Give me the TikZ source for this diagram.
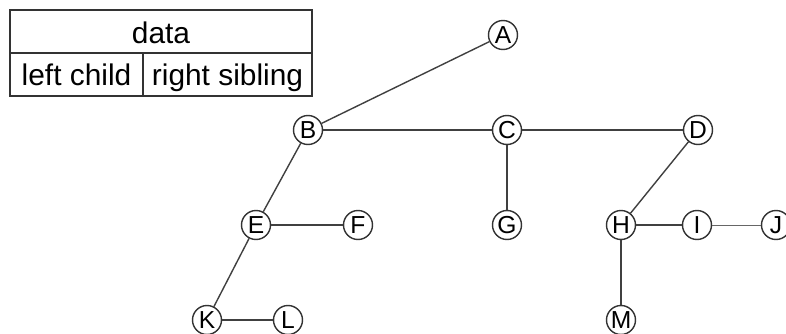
\documentclass[tikz,border=0pt]{standalone}
\usepackage{fontspec}
\setmainfont{Liberation Sans}
\begin{document}
\begin{tikzpicture}[
        vertex/.style={draw=black!80,line width=0.8pt,circle,fill=white,inner sep=0pt,minimum size=0.58cm,font=\fontsize{14}{16}\selectfont},
        edge/.style={draw=black!75,line width=0.8pt},
        field/.style={inner sep=0pt,anchor=base,font=\fontsize{17}{20}\selectfont}
    ]
                \useasboundingbox (0,0) rectangle (15.72,-6.66);
                \draw[black!80,line width=0.7pt] (0.2,-0.2) rectangle (6.24,-1.92);
                \draw[black!80,line width=0.7pt] (0.2,-1.06) -- (6.24,-1.06);
                \draw[black!80,line width=0.7pt] (2.86,-1.06) -- (2.86,-1.92);
                \node[field] (data) at (3.22,-0.87) {data};
                \node[field] (lchild) at (1.53,-1.70) {left child};
                \node[field] (rsib) at (4.55,-1.70) {right sibling};
                \node[vertex] (A) at (10.06,-0.70) {A};
                \node[vertex] (B) at (6.16,-2.60) {B};
                \node[vertex] (C) at (10.14,-2.60) {C};
                \node[vertex] (D) at (13.96,-2.60) {D};
                \node[vertex] (E) at (5.12,-4.50) {E};
                \node[vertex] (F) at (7.16,-4.50) {F};
                \node[vertex] (G) at (10.14,-4.50) {G};
                \node[vertex] (H) at (12.42,-4.50) {H};
                \node[vertex] (I) at (13.94,-4.50) {I};
                \node[vertex] (J) at (15.52,-4.50) {J};
                \node[vertex] (K) at (4.14,-6.40) {K};
                \node[vertex] (L) at (5.76,-6.40) {L};
                \node[vertex] (M) at (12.42,-6.40) {M};
                \draw[edge] (A) -- (B);
                \draw[edge] (B) -- (C);
                \draw[edge] (C) -- (D);
                \draw[edge] (B) -- (E);
                \draw[edge] (E) -- (F);
                \draw[edge] (C) -- (G);
                \draw[edge] (D) -- (H);
                \draw[edge] (H) -- (I);
                \draw[edge,line width=0.5pt,black!60] (I) -- (J);
                \draw[edge] (E) -- (K);
                \draw[edge] (K) -- (L);
                \draw[edge] (H) -- (M);
            \end{tikzpicture}
\end{document}
